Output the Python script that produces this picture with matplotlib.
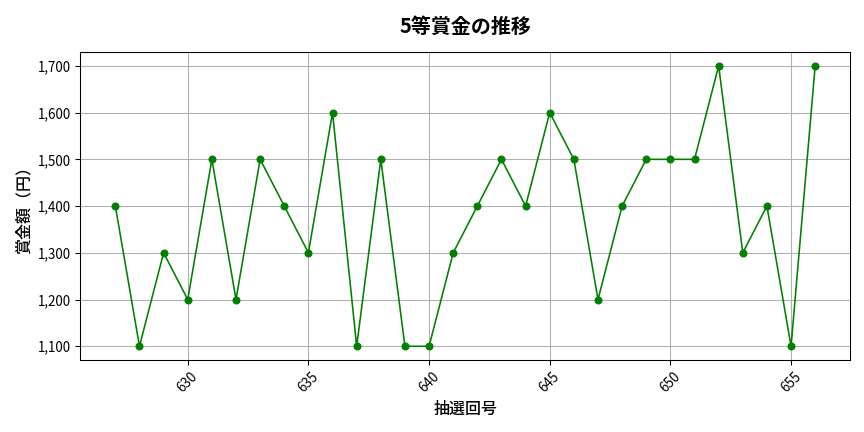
import matplotlib
matplotlib.use('Agg')
import matplotlib.pyplot as plt
from matplotlib.ticker import FuncFormatter

plt.rcParams['font.family'] = ['Noto Sans CJK JP', 'DejaVu Sans']

draws = list(range(627, 657))
prizes = [1400, 1100, 1300, 1200, 1500, 1200, 1500, 1400, 1300, 1600,
          1100, 1500, 1100, 1100, 1300, 1400, 1500, 1400, 1600, 1500,
          1200, 1400, 1500, 1500, 1500, 1700, 1300, 1400, 1100, 1700]

fig, ax = plt.subplots(figsize=(9, 4.5), dpi=96)
ax.plot(draws, prizes, color='green', marker='o', linewidth=1.2, markersize=5)
ax.set_title('5等賞金の推移', fontsize=15, fontweight='bold', pad=14)
ax.set_xlabel('抽選回号', fontsize=12, fontweight='medium')
ax.set_ylabel('賞金額（円）', fontsize=12, fontweight='medium')
ax.yaxis.set_major_formatter(FuncFormatter(lambda v, p: f'{int(v):,}'))
ax.grid(True, color='#b0b0b0', linewidth=0.8)
plt.setp(ax.get_xticklabels(), rotation=45)
ax.tick_params(labelsize=10)
fig.subplots_adjust(left=0.093, right=0.984, top=0.88, bottom=0.166)
fig.savefig('out.png', dpi=96)
